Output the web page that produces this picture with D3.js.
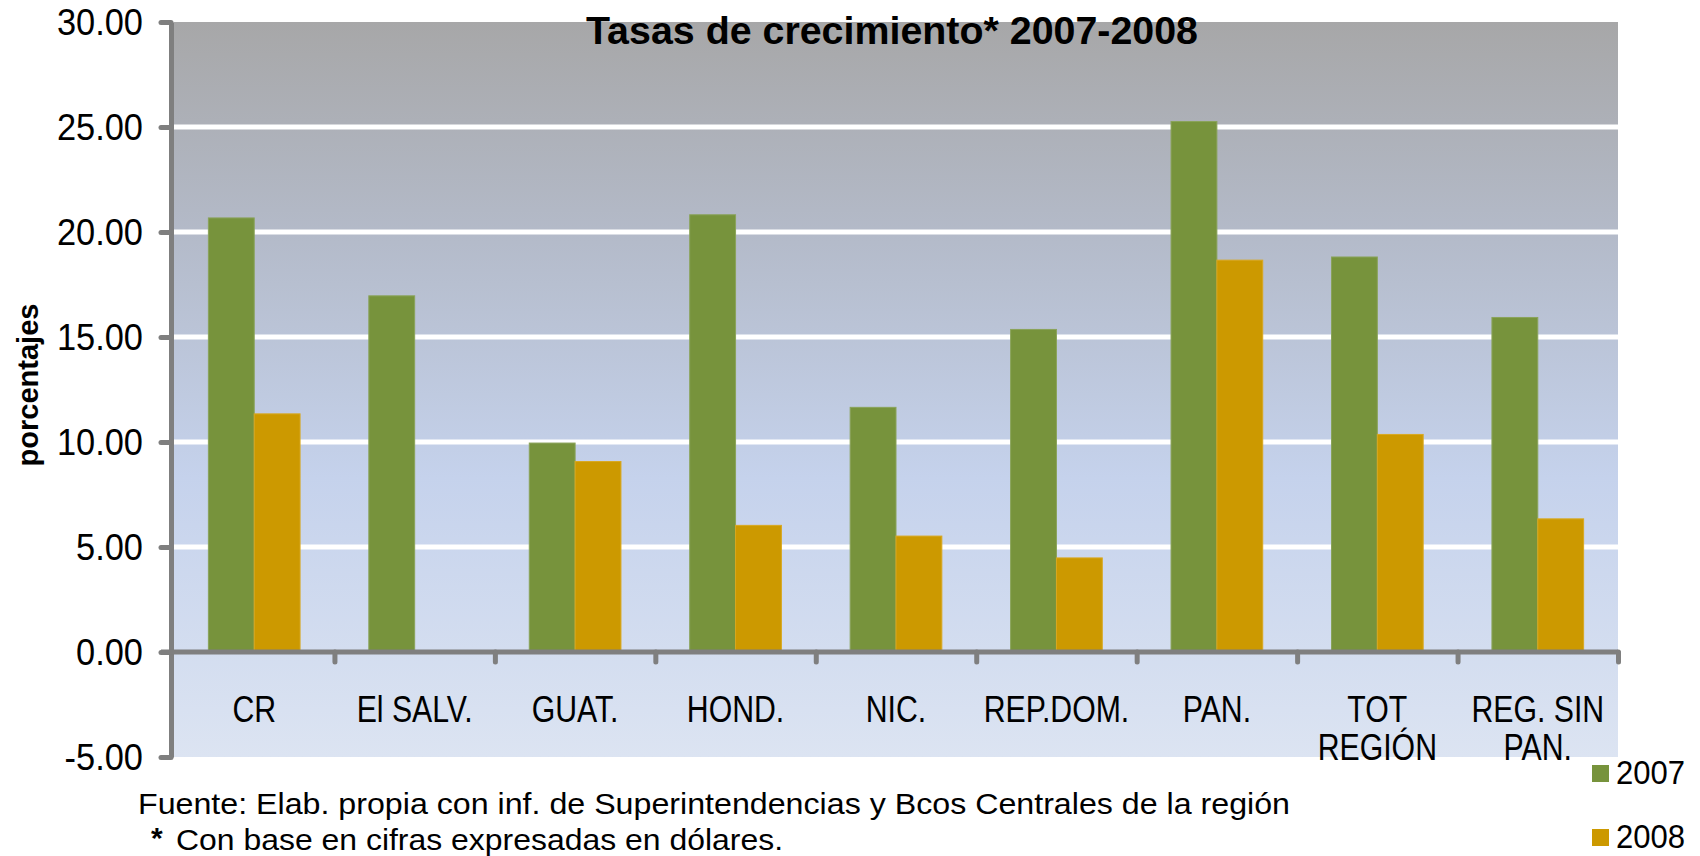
<!DOCTYPE html>
<html>
<head>
<meta charset="utf-8">
<script src="https://cdn.jsdelivr.net/npm/d3@7"></script>
<style>
  body { margin: 0; background: #ffffff; }
  svg text { font-family: "Liberation Sans", Arial, sans-serif; fill: #000; }
  .axis .domain { stroke: #7f7f7f; stroke-width: 5; }
  .axis line { stroke: #7f7f7f; stroke-width: 5; stroke-linecap: round; }
</style>
</head>
<body>
<svg id="chart"></svg>
<script>
// categories and their wrapped labels
const categories = ["CR", "El SALV.", "GUAT.", "HOND.", "NIC.", "REP.DOM.", "PAN.", "TOT REGIÓN", "REG. SIN PAN."];
const categoryLines = [["CR"], ["El SALV."], ["GUAT."], ["HOND."], ["NIC."], ["REP.DOM."], ["PAN."], ["TOT", "REGIÓN"], ["REG. SIN", "PAN."]];

// growth rates, percent
const values2007 = [20.67, 16.96, 9.95, 20.82, 11.65, 15.36, 25.26, 18.81, 15.93];
const values2008 = [11.34, null, 9.07, 6.03, 5.52, 4.48, 18.66, 10.36, 6.34];

const seriesNames = ["2007", "2008"];
const yTicks = [-5, 0, 5, 10, 15, 20, 25, 30];
const gridTicks = [5, 10, 15, 20, 25];

const titleText = "Tasas de crecimiento*  2007-2008";
const yTitle = "porcentajes";
const sourceText = "Fuente: Elab. propia con inf. de Superintendencias y Bcos Centrales de la región";
const noteText = "Con base en cifras expresadas en dólares.";

const width = 1700;
const height = 856;
const plotLeft = 174;
const plotRight = 1618;
const plotTop = 22;
const plotBottom = 757;
const colors = ["#77933c", "#cc9900"];

// squeeze glyphs a bit, the original used a narrow face
function condense(sel, factor) {
  sel.each(function () {
    const len = this.getComputedTextLength();
    d3.select(this)
      .attr("textLength", len * factor)
      .attr("lengthAdjust", "spacingAndGlyphs");
  });
}

const svg = d3.select("#chart")
  .attr("width", width)
  .attr("height", height)
  .attr("viewBox", [0, 0, width, height]);

// Scales
const y = d3.scaleLinear().domain([-5, 30]).range([plotBottom, plotTop]);
const x = d3.scaleBand().domain(categories).range([plotLeft, plotRight]).padding(0);
const edges = d3.scaleLinear().domain([0, categories.length]).range([plotLeft, plotRight]);
// gap width 150%: two bars + 1.5 bar of gap per category
const barW = x.bandwidth() / 3.5;
const xs = d3.scaleBand().domain(seriesNames).range([barW * 0.75, barW * 2.75]).padding(0);

// Plot background gradient
const defs = svg.append("defs");
const grad = defs.append("linearGradient")
  .attr("id", "bg")
  .attr("x1", 0).attr("y1", 0).attr("x2", 0).attr("y2", 1);
grad.append("stop").attr("offset", "0%").attr("stop-color", "#a7a7a8");
grad.append("stop").attr("offset", "30%").attr("stop-color", "#b4bbca");
grad.append("stop").attr("offset", "62%").attr("stop-color", "#c5d2ec");
grad.append("stop").attr("offset", "100%").attr("stop-color", "#dce4f2");

svg.append("rect")
  .attr("x", plotLeft)
  .attr("y", plotTop)
  .attr("width", plotRight - plotLeft)
  .attr("height", plotBottom - plotTop)
  .attr("fill", "url(#bg)");

// Gridlines
svg.append("g")
  .selectAll("line")
  .data(gridTicks)
  .join("line")
  .attr("x1", plotLeft)
  .attr("x2", plotRight)
  .attr("y1", (d) => y(d))
  .attr("y2", (d) => y(d))
  .attr("stroke", "#ffffff")
  .attr("stroke-width", 5);

// Bars
const rows = categories.map((c, i) => ({ cat: c, vals: [values2007[i], values2008[i]] }));
const groups = svg.append("g")
  .selectAll("g")
  .data(rows)
  .join("g")
  .attr("transform", (d) => `translate(${x(d.cat)},0)`);

groups.selectAll("rect")
  .data((d) => d.vals.map((v, k) => ({ v, k })).filter((e) => e.v != null))
  .join("rect")
  .attr("x", (e) => xs(seriesNames[e.k]))
  .attr("width", xs.bandwidth())
  .attr("y", (e) => y(Math.max(0, e.v)))
  .attr("height", (e) => Math.abs(y(e.v) - y(0)))
  .attr("fill", (e) => colors[e.k])
  .attr("stroke", (e) => (e.k === 0 ? "#8aa35a" : "#d9a820"))
  .attr("stroke-width", 1);

// Y axis
svg.append("g")
  .attr("class", "axis")
  .attr("transform", `translate(${plotLeft - 3},0)`)
  .call(
    d3.axisLeft(y)
      .tickValues(yTicks)
      .tickFormat((d) => d.toFixed(2))
      .tickSize(10)
      .tickSizeOuter(0)
      .tickPadding(18)
  )
  .call((g) => g.selectAll("text")
    .style("font-size", "37px")
    .attr("dy", "0.35em"))
  .call((g) => condense(g.selectAll("text"), 0.93));

// X axis (ticks on category boundaries)
svg.append("g")
  .attr("class", "axis")
  .attr("transform", `translate(0,${y(0)})`)
  .call(
    d3.axisBottom(edges)
      .tickValues(d3.range(1, categories.length + 1))
      .tickFormat("")
      .tickSize(10)
      .tickSizeOuter(0)
  )
  .call((g) => g.select(".domain").attr("d", `M${plotLeft - 13},0H${plotRight}`));

// Category labels, one text per line
const labelG = svg.append("g").attr("text-anchor", "middle");
categories.forEach((c, i) => {
  categoryLines[i].forEach((line, j) => {
    labelG.append("text")
      .attr("x", x(c) + x.bandwidth() / 2)
      .attr("y", 722 + j * 38)
      .style("font-size", "36px")
      .text(line)
      .call((t) => condense(t, 0.84));
  });
});

// Title
svg.append("text")
  .attr("x", 892)
  .attr("y", 44)
  .attr("text-anchor", "middle")
  .attr("textLength", 612)
  .attr("lengthAdjust", "spacingAndGlyphs")
  .style("font-size", "38px")
  .style("font-weight", "bold")
  .text(titleText);

// Y axis title
svg.append("text")
  .attr("transform", "translate(38,385) rotate(-90)")
  .attr("text-anchor", "middle")
  .attr("textLength", 163)
  .attr("lengthAdjust", "spacingAndGlyphs")
  .style("font-size", "29px")
  .style("font-weight", "bold")
  .text(yTitle);

// Legend
const legend = svg.append("g")
  .selectAll("g")
  .data(seriesNames)
  .join("g")
  .attr("transform", (d, i) => `translate(1592,${765 + i * 64})`);

legend.append("rect")
  .attr("width", 17)
  .attr("height", 17)
  .attr("fill", (d, i) => colors[i]);

legend.append("text")
  .attr("x", 24)
  .attr("y", 19)
  .style("font-size", "33px")
  .text((d) => d)
  .call((t) => condense(t, 0.94));

// Footnotes
svg.append("text")
  .attr("x", 138)
  .attr("y", 814)
  .attr("textLength", 1152)
  .attr("lengthAdjust", "spacingAndGlyphs")
  .style("font-size", "29px")
  .text(sourceText);

const note = svg.append("text")
  .attr("x", 151)
  .attr("y", 850)
  .style("font-size", "29px");
note.append("tspan")
  .attr("dy", -2)
  .style("font-weight", "bold")
  .style("font-size", "30px")
  .text("*");
note.append("tspan")
  .attr("x", 176)
  .attr("dy", 2)
  .attr("textLength", 607)
  .attr("lengthAdjust", "spacingAndGlyphs")
  .text(noteText);
</script>
</body>
</html>
